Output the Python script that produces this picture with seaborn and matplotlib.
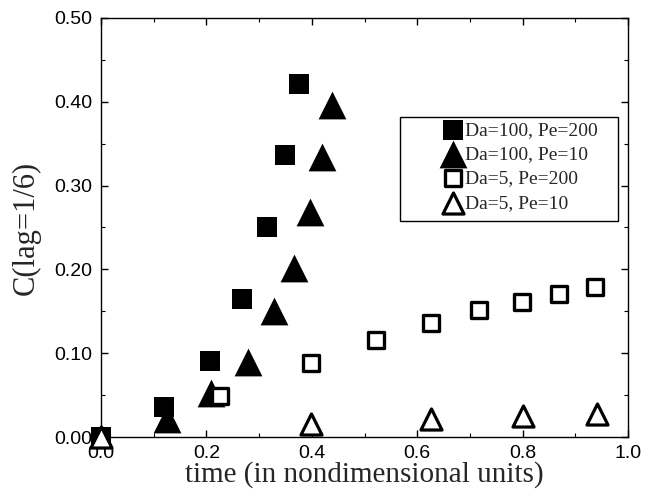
import matplotlib
matplotlib.use("Agg")
import matplotlib.pyplot as plt
import seaborn as sns
from matplotlib.ticker import MultipleLocator, FormatStrFormatter
from matplotlib.patches import Rectangle

# ---- data ----
labels = ["Da=100, Pe=200", "Da=100, Pe=10", "Da=5, Pe=200", "Da=5, Pe=10"]

x_da100_pe200 = [0.0, 0.120, 0.207, 0.267, 0.315, 0.350, 0.376]
y_da100_pe200 = [0.0, 0.036, 0.091, 0.165, 0.251, 0.337, 0.421]

x_da100_pe10 = [0.125, 0.208, 0.278, 0.328, 0.367, 0.397, 0.420, 0.438]
y_da100_pe10 = [0.021, 0.052, 0.090, 0.150, 0.202, 0.268, 0.334, 0.396]

x_da5_pe200 = [0.226, 0.398, 0.521, 0.627, 0.717, 0.798, 0.870, 0.938]
y_da5_pe200 = [0.049, 0.088, 0.116, 0.136, 0.152, 0.161, 0.171, 0.179]

x_da5_pe10 = [0.0, 0.399, 0.627, 0.800, 0.941]
y_da5_pe10 = [0.0, 0.016, 0.022, 0.025, 0.027]

sns.set_style("ticks")
plt.rcParams["font.family"] = ["Liberation Sans", "DejaVu Sans"]

fig = plt.figure(figsize=(6.45, 4.91), dpi=100)
ax = fig.add_axes([101 / 645, 1 - 437 / 491, 527 / 645, 419 / 491])

sns.scatterplot(x=x_da100_pe200, y=y_da100_pe200, ax=ax, marker="s", s=215,
                color="black", edgecolor="black", linewidth=0, label=labels[0],
                clip_on=False, zorder=3)
sns.scatterplot(x=x_da100_pe10, y=y_da100_pe10, ax=ax, marker="^", s=400,
                color="black", edgecolor="black", linewidth=0, label=labels[1],
                clip_on=False, zorder=3)
sns.scatterplot(x=x_da5_pe200, y=y_da5_pe200, ax=ax, marker="s", s=144,
                facecolor="white", edgecolor="black", linewidth=2.4,
                label=labels[2], clip_on=False, zorder=4)
sns.scatterplot(x=x_da5_pe10, y=y_da5_pe10, ax=ax, marker="^", s=230,
                facecolor="white", edgecolor="black", linewidth=2.3,
                label=labels[3], clip_on=False, zorder=4)

ax.set_xlim(0, 1.0)
ax.set_ylim(0, 0.5)
ax.xaxis.set_major_locator(MultipleLocator(0.2))
ax.xaxis.set_minor_locator(MultipleLocator(0.1))
ax.yaxis.set_major_locator(MultipleLocator(0.1))
ax.yaxis.set_minor_locator(MultipleLocator(0.05))
ax.xaxis.set_major_formatter(FormatStrFormatter("%.1f"))
ax.yaxis.set_major_formatter(FormatStrFormatter("%.2f"))

ax.tick_params(which="both", direction="in", top=True, right=True, colors="black")
ax.tick_params(which="major", length=5, width=1.0, labelsize=14, pad=6)
ax.tick_params(which="minor", length=3, width=0.8)
for sp in ax.spines.values():
    sp.set_color("black")
    sp.set_linewidth(1.0)

ax.set_xlabel("time (in nondimensional units)", family="Liberation Serif",
              fontsize=21, labelpad=-1)
ax.set_ylabel("C(lag=1/6)", family="Liberation Serif", fontsize=22, labelpad=10)

# legend box (drawn as a frame) and frameless legend inside it
ax.add_patch(Rectangle((0.567, 0.516), 0.414, 0.248, transform=ax.transAxes,
                       facecolor="white", edgecolor="black", linewidth=1.0,
                       clip_on=False, zorder=4.5))
leg = ax.legend(loc="upper left", bbox_to_anchor=(0.649, 0.752),
                prop={"family": "Liberation Serif", "size": 14},
                frameon=False, handlelength=1.0, handletextpad=0.13,
                labelspacing=0.33, borderpad=0, borderaxespad=0)
leg.set_zorder(6)

fig.savefig("out.png", dpi=100)
